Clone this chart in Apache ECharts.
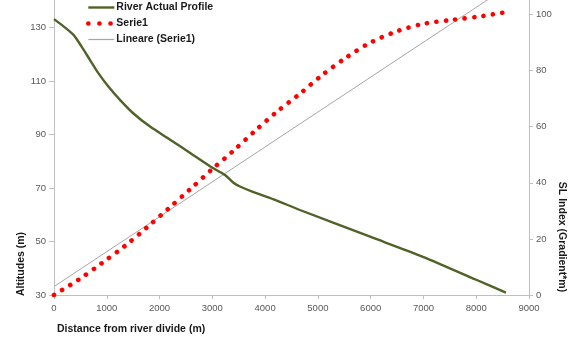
<!DOCTYPE html>
<html>
<head>
<meta charset="utf-8">
<script src="https://cdn.jsdelivr.net/npm/echarts@6/dist/echarts.min.js"></script>
<style>
html,body{margin:0;padding:0;background:#fff;}
#chart{width:574px;height:338px;}
</style>
</head>
<body>
<div id="chart"></div>
<script>
// River Actual Profile: distance (m) vs altitude (m)
const riverDist = [0, 180, 370, 520, 680, 840, 1030, 1250, 1500, 1820, 2200, 2580, 2960, 3240, 3400, 3524, 3780, 4160, 4660, 5990, 6990, 8000, 8563];
const riverAlt  = [133.2, 130.5, 127.3, 123.0, 118.0, 113.0, 108.0, 103.0, 98.0, 93.0, 88.1, 83.1, 78.1, 74.9, 72.0, 70.6, 68.5, 65.8, 61.8, 51.8, 44.3, 35.7, 30.9];
// Serie1: SL index (Gradient*m)
const slDist  = [0, 468, 909, 1351, 1768, 2179, 2590, 2994, 3397, 3814, 4225, 4661, 5072, 5514, 5974, 6474, 6998, 7541, 8091, 8627];
const slIndex = [0, 5.5, 11.4, 17.6, 24.2, 31.0, 37.9, 44.8, 51.4, 58.6, 65.4, 71.8, 78.3, 84.4, 89.8, 93.9, 96.7, 98.1, 99.4, 101.1];
// Lineare (Serie1): linear trend line end points
const trendDist = [0, 8627];
const trendSL   = [3.0, 110.4];
// Axis settings
const xTicks = {min: 0, max: 9000, step: 1000};
const leftTicks = {min: 30, max: 140.36, step: 20};
const rightTicks = {min: 0, max: 105.2, step: 20};

const zip = (a, b) => a.map((v, i) => [v, b[i]]);
const FONT = 'Liberation Sans';
const plain = v => String(v);
const labelStyle = {color: '#595959', fontSize: 9.5, fontFamily: FONT, formatter: plain};
const axisLineStyle = {lineStyle: {color: '#bfbfbf', width: 1}};
const dotStyle = {color: '#ff0000', width: 4.6, type: [0.1, 9.4], cap: 'round'};

const chart = echarts.init(document.getElementById('chart'), null, {renderer: 'canvas'});
chart.setOption({
  animation: false,
  backgroundColor: '#ffffff',
  grid: {left: 54, right: 45, top: 0, bottom: 43, containLabel: false},
  legend: {
    orient: 'vertical', left: 86, top: 2, padding: 0,
    itemWidth: 26, itemHeight: 10, itemGap: 5,
    itemStyle: {opacity: 0},
    textStyle: {fontFamily: FONT, fontWeight: 'bold', fontSize: 10.5, color: '#1a1a1a', padding: [0, 0, 0, -3]},
    data: [
      {name: 'River Actual Profile', lineStyle: {color: '#4f6228', width: 2.4}},
      {name: 'Serie1', lineStyle: {color: '#ff0000', width: 4.6, type: [0.1, 11], cap: 'round'}},
      {name: 'Lineare (Serie1)', lineStyle: {color: '#a6a6a6', width: 1.2}}
    ]
  },
  xAxis: {
    type: 'value', min: xTicks.min, max: xTicks.max, interval: xTicks.step,
    axisLine: {show: true, onZero: false, ...axisLineStyle},
    axisTick: {show: true, length: 4, lineStyle: {color: '#bfbfbf'}},
    axisLabel: {...labelStyle, margin: 8},
    splitLine: {show: false}
  },
  yAxis: [{
    type: 'value', position: 'left', min: leftTicks.min, max: leftTicks.max, interval: leftTicks.step,
    axisLine: {show: true, ...axisLineStyle},
    axisTick: {show: true, length: 5, lineStyle: {color: '#bfbfbf'}},
    axisLabel: {...labelStyle, margin: 8, showMaxLabel: false},
    splitLine: {show: false}
  }, {
    type: 'value', position: 'right', min: rightTicks.min, max: rightTicks.max, interval: rightTicks.step,
    axisLine: {show: true, ...axisLineStyle},
    axisTick: {show: true, length: 4, lineStyle: {color: '#bfbfbf'}},
    axisLabel: {...labelStyle, margin: 7, showMaxLabel: false},
    splitLine: {show: false}
  }],
  series: [{
    name: 'River Actual Profile', type: 'line', yAxisIndex: 0,
    data: zip(riverDist, riverAlt), smooth: 0.25, symbol: 'none',
    lineStyle: {color: '#4f6228', width: 2.4},
    itemStyle: {color: '#4f6228'}, z: 3
  }, {
    name: 'Serie1', type: 'line', yAxisIndex: 1,
    data: zip(slDist, slIndex), smooth: 0.3, symbol: 'none',
    lineStyle: dotStyle,
    itemStyle: {color: '#ff0000'}, z: 2
  }, {
    name: 'Lineare (Serie1)', type: 'line', yAxisIndex: 1,
    data: zip(trendDist, trendSL), symbol: 'none', clip: true,
    lineStyle: {color: '#a6a6a6', width: 1},
    itemStyle: {color: '#a6a6a6'}, z: 1
  }],
  graphic: [{
    type: 'text', x: 57, y: 329,
    style: {text: 'Distance from river divide (m)', font: 'bold 10.5px "Liberation Sans"', fill: '#1a1a1a', textAlign: 'left', textVerticalAlign: 'middle'}
  }, {
    type: 'text', x: 21, y: 264, rotation: Math.PI / 2,
    style: {text: 'Altitudes (m)', font: 'bold 10.5px "Liberation Sans"', fill: '#1a1a1a', textAlign: 'center', textVerticalAlign: 'middle'}
  }, {
    type: 'text', x: 562, y: 237, rotation: -Math.PI / 2,
    style: {text: 'SL Index (Gradient*m)', font: 'bold 10.5px "Liberation Sans"', fill: '#1a1a1a', textAlign: 'center', textVerticalAlign: 'middle'}
  }]
});
</script>
</body>
</html>
